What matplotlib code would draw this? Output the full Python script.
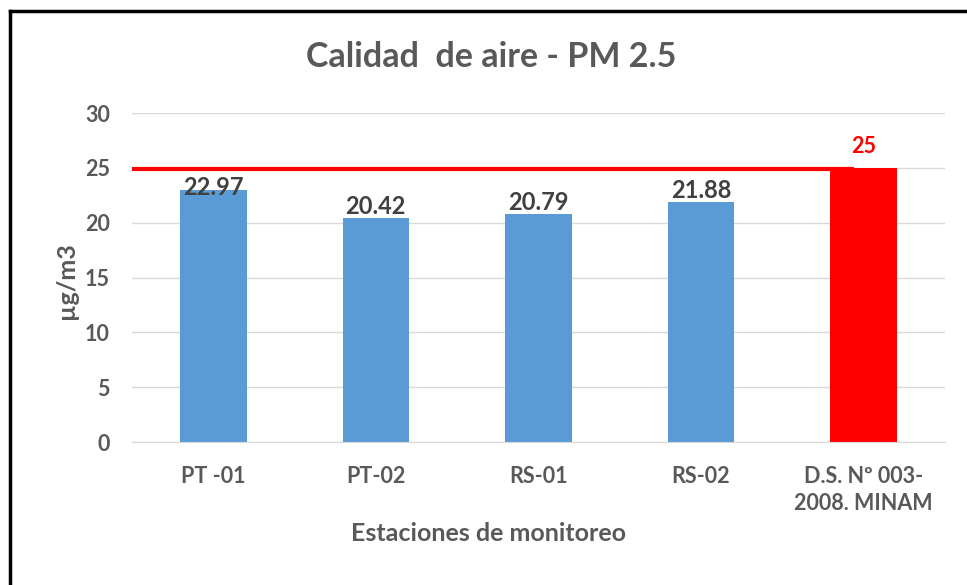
import matplotlib.pyplot as plt
from matplotlib.lines import Line2D

plt.rcParams['font.family'] = ['Lato', 'DejaVu Sans']

estaciones = ["PT -01", "PT-02", "RS-01", "RS-02", "D.S. Nº 003-\n2008. MINAM"]
valores = [22.97, 20.42, 20.79, 21.88, 25]
etiquetas = ["22.97", "20.42", "20.79", "21.88", "25"]
limite = 25
colores = ["#5b9bd5", "#5b9bd5", "#5b9bd5", "#5b9bd5", "#ff0000"]

gris = "#595959"

fig = plt.figure(figsize=(9.67, 5.85), dpi=100)
ax = fig.add_axes([0.1365, 0.2444, 0.8405, 0.5624])

x = range(len(estaciones))
ax.bar(x, valores, width=0.41, color=colores, zorder=2)

# etiquetas de datos
for i, (v, t) in enumerate(zip(valores, etiquetas)):
    if i == len(valores) - 1:
        ax.text(i, v + 1.35, t, ha='center', va='baseline', color='#ff0000',
                fontsize=15.5, fontweight='bold')
    elif i == 0:
        ax.text(i, v - 0.45, t, ha='center', va='baseline', color='#404040',
                fontsize=17, fontweight='bold', zorder=4)
    else:
        ax.text(i, v + 0.35, t, ha='center', va='baseline', color='#404040',
                fontsize=17, fontweight='bold', zorder=4)

# linea del limite
ax.plot([-0.5, 3.94], [limite - 0.1, limite - 0.1], color='#ff0000', linewidth=3,
        zorder=3, solid_capstyle='butt')

ax.set_xlim(-0.5, 4.5)
ax.set_ylim(0, 30)
ax.set_yticks([0, 5, 10, 15, 20, 25, 30])
ax.set_xticks(list(x))
ax.set_xticklabels(estaciones, linespacing=1.4)
ax.yaxis.grid(True, color='#d9d9d9', linewidth=1)
ax.set_axisbelow(True)
for s in ['top', 'right', 'left']:
    ax.spines[s].set_visible(False)
ax.spines['bottom'].set_color('#d9d9d9')
ax.tick_params(axis='both', length=0, colors=gris, labelsize=15.5)
for lbl in ax.get_xticklabels() + ax.get_yticklabels():
    lbl.set_fontweight('bold')
ax.tick_params(axis='x', pad=17)
ax.tick_params(axis='y', pad=16)

ax.set_ylabel("µg/m3", fontsize=18, fontweight='bold', color=gris)
ax.yaxis.set_label_coords(-0.067, 0.492)
ax.set_xlabel("Estaciones de monitoreo", fontsize=18, fontweight='bold',
              color=gris)
ax.xaxis.set_label_coords(0.439, -0.243)

fig.text(0.508, 0.903, "Calidad  de aire - PM 2.5", ha='center', va='center',
         fontsize=24.5, fontweight='bold', color=gris)

# marco (solo arriba e izquierda visibles)
fig.add_artist(Line2D([0.0105, 0.0105], [0, 0.982], color='black', lw=2.5,
                      transform=fig.transFigure))
fig.add_artist(Line2D([0.0105, 1], [0.982, 0.982], color='black', lw=2.5,
                      transform=fig.transFigure))

fig.savefig("out.png", dpi=100)
